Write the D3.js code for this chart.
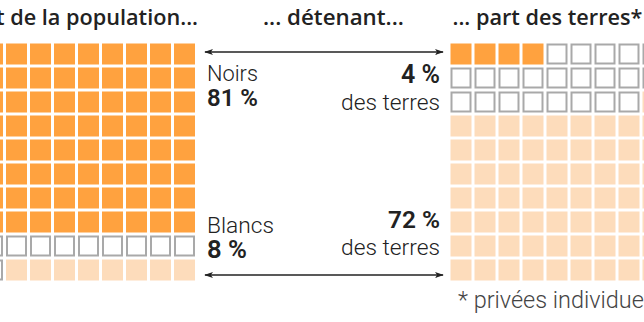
<!DOCTYPE html>
<html><head><meta charset="utf-8">
<script src="https://cdn.jsdelivr.net/npm/d3@7"></script>
<style>
html,body{margin:0;padding:0;background:#fff;overflow:hidden}
svg{display:block}
text{font-family:Roboto,"Noto Sans",sans-serif;fill:#222}
.title{font-family:"Open Sans",Roboto,sans-serif;font-weight:600}
</style></head><body>
<script>
// data
const groups = ["Noirs", "Autres", "Blancs"];
const populationShares = [81, 11, 8];   // % of population
const landShares = [4, 24, 72];          // % of private land
const titles = ["Part de la population...", "... détenant...", "... part des terres*"];
const footnote = "* privées individuelles";
const labelNoirs = {name: "Noirs", pop: "81 %", land: "4 %", sub: "des terres"};
const labelBlancs = {name: "Blancs", pop: "8 %", land: "72 %", sub: "des terres"};

const W = 644, H = 322;
const svg = d3.select("body").append("svg").attr("width", W).attr("height", H);

const color = d3.scaleOrdinal().domain(groups).range(["#FFA23F", "#FFFFFF", "#FDDCBB"]);

function cells(shares) {
  const out = [];
  shares.forEach((n, gi) => { for (let k = 0; k < n; k++) out.push(groups[gi]); });
  return out.map((g, i) => ({g, col: i % 10, row: Math.floor(i / 10)}));
}

const y = d3.scaleBand().domain(d3.range(10)).range([43.5, 280.5]).paddingInner(0.125);

function waffle(shares, x0, x1) {
  const x = d3.scaleBand().domain(d3.range(10)).range([x0, x1]).paddingInner(0.125);
  const g = svg.append("g");
  g.selectAll("rect").data(cells(shares)).join("rect")
    .attr("x", d => d.g === "Autres" ? x(d.col) + 1 : x(d.col))
    .attr("y", d => d.g === "Autres" ? y(d.row) + 1 : y(d.row))
    .attr("width", d => d.g === "Autres" ? x.bandwidth() - 2 : x.bandwidth())
    .attr("height", d => d.g === "Autres" ? y.bandwidth() - 2 : y.bandwidth())
    .attr("fill", d => color(d.g))
    .attr("stroke", d => d.g === "Autres" ? "#A9A9A9" : "none")
    .attr("stroke-width", 2);
}
waffle(populationShares, -42, 195);
waffle(landShares, 450.5, 687.5);

// size a text so that (part of) it spans a given width
function fit(sel, sample, width, base) {
  sel.attr("font-size", base);
  const probe = svg.append("text").attr("class", sel.attr("class"))
    .attr("font-size", base).attr("font-weight", sel.attr("font-weight")).text(sample);
  const w = probe.node().getComputedTextLength();
  probe.remove();
  sel.attr("font-size", base * width / w);
  return sel;
}

// titles
fit(svg.append("text").attr("class", "title").attr("x", 198).attr("y", 25).attr("text-anchor", "end").text(titles[0]),
  "de la population...", 188, 20);
fit(svg.append("text").attr("class", "title").attr("x", 263).attr("y", 25).text(titles[1]),
  titles[1], 141, 20);
fit(svg.append("text").attr("class", "title").attr("x", 452.5).attr("y", 25).text(titles[2]),
  titles[2], 190, 20);

// arrows
const defs = svg.append("defs");
["s", "e"].forEach(k => {
  defs.append("marker").attr("id", "arr" + k).attr("viewBox", "0 0 10 10")
    .attr("refX", 9).attr("refY", 5).attr("markerWidth", 9).attr("markerHeight", 9)
    .attr("markerUnits", "userSpaceOnUse").attr("orient", "auto-start-reverse")
    .append("path").attr("d", "M0,1.5 L10,5 L0,8.5 L2.5,5 Z").attr("fill", "#222");
});
const arrowY = d3.scalePoint().domain(["Noirs", "Blancs"]).range([y(0) + 8.5, y(9) + 15.5]);
["Noirs", "Blancs"].forEach(k => {
  svg.append("line").attr("x1", 205).attr("x2", 443)
    .attr("y1", arrowY(k)).attr("y2", arrowY(k))
    .attr("stroke", "#222").attr("stroke-width", 1.5)
    .attr("marker-start", "url(#arrs)").attr("marker-end", "url(#arre)");
});

// labels
function label(l, yName, yPop, yLand, ySub, wName, wPop, wLand) {
  fit(svg.append("text").attr("x", 207).attr("y", yName).attr("font-weight", 300).text(l.name), l.name, wName, 22);
  fit(svg.append("text").attr("x", 207).attr("y", yPop).attr("font-weight", 600).text(l.pop), l.pop, wPop, 23);
  fit(svg.append("text").attr("x", 440).attr("y", yLand).attr("text-anchor", "end").attr("font-weight", 600).text(l.land), l.land, wLand, 23);
  fit(svg.append("text").attr("x", 440).attr("y", ySub).attr("text-anchor", "end").attr("font-weight", 300).text(l.sub), l.sub, 99, 22);
}
label(labelNoirs, 81, 106, 83, 110, 51, 51, 39);
label(labelBlancs, 233, 258, 228, 255, 67, 40, 52);

fit(svg.append("text").attr("x", 458).attr("y", 308).attr("font-weight", 300)
  .style("fill", "#444").text(footnote), "* privées individue", 186, 20);
</script>
</body></html>
